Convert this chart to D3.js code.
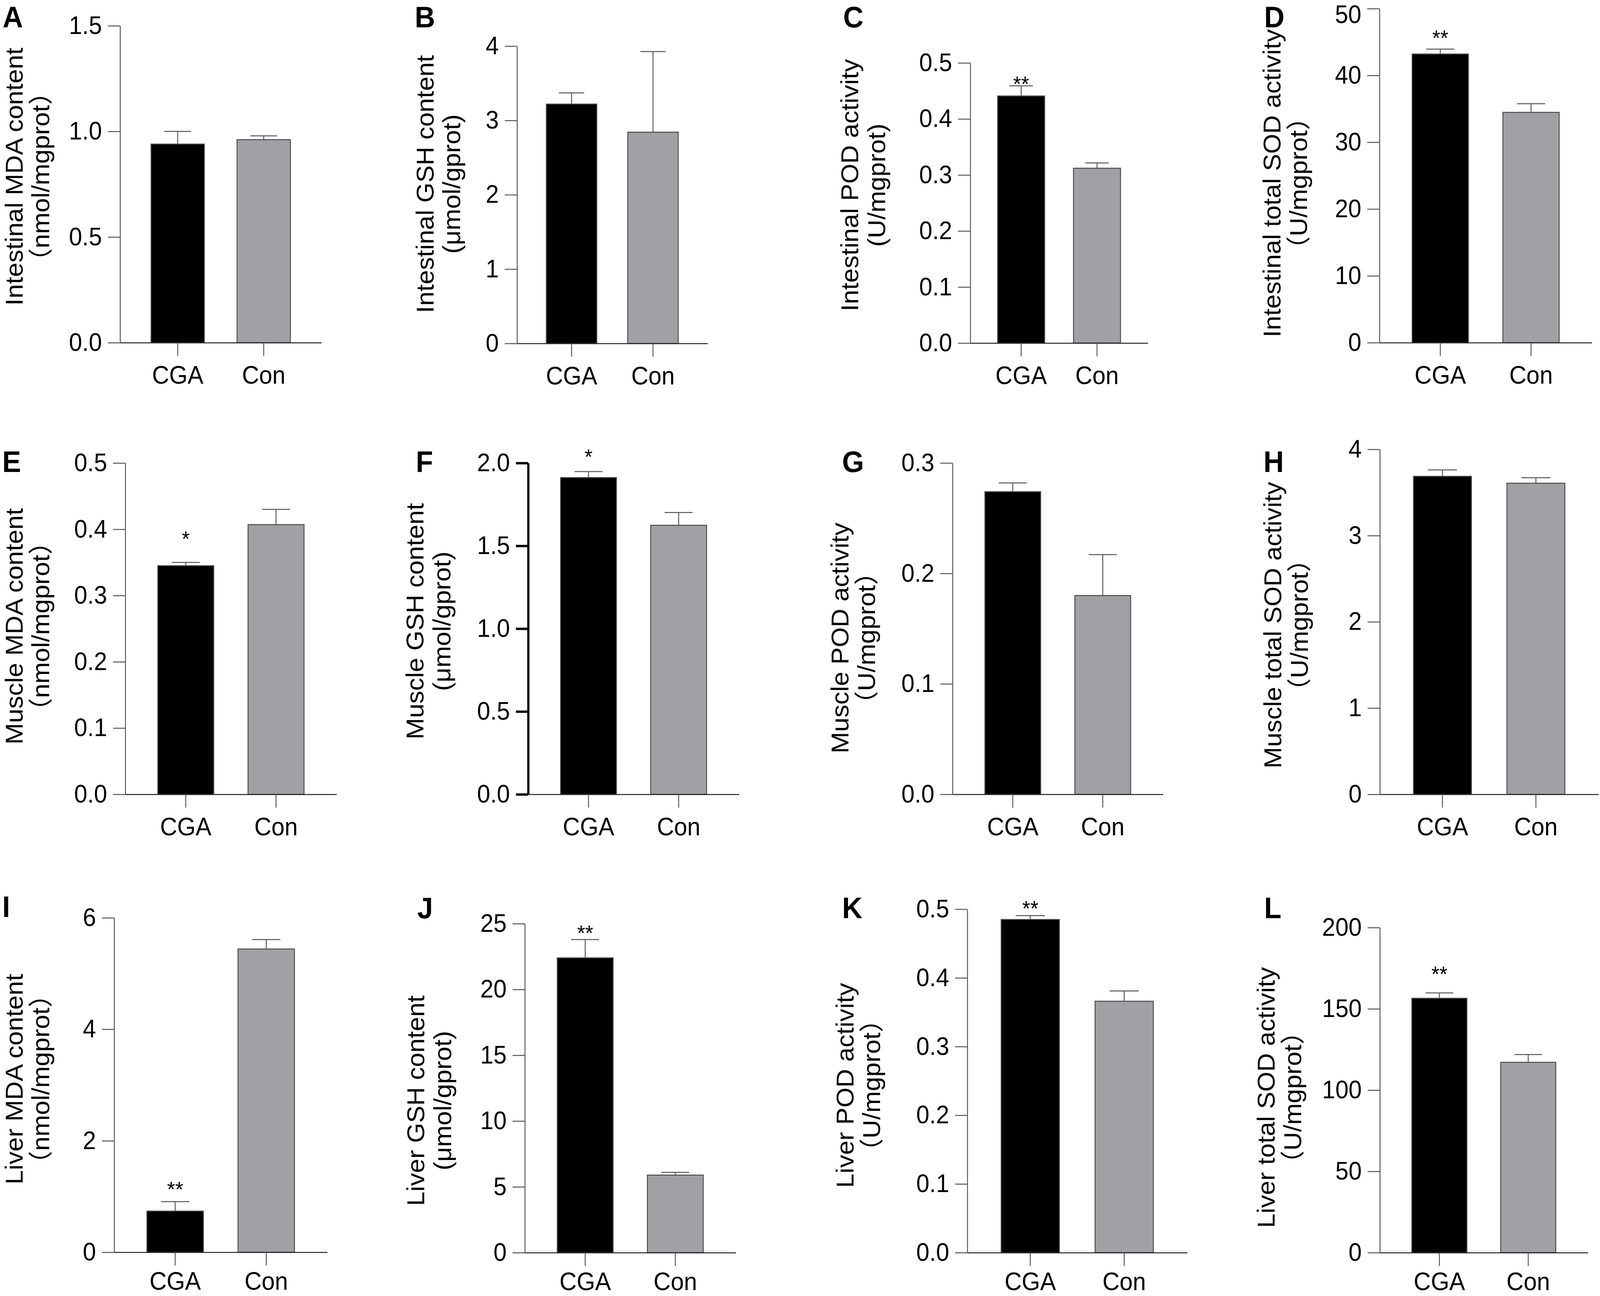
<!DOCTYPE html>
<html>
<head>
<meta charset="utf-8">
<script src="https://cdn.jsdelivr.net/npm/d3@7/dist/d3.min.js"></script>
<style>
  html, body { margin: 0; padding: 0; background: #fff; overflow: hidden; }
  svg { display: block; width: 100vw; height: 100vh; }
</style>
</head>
<body>
<svg id="chart" viewBox="0 0 4317 3317" preserveAspectRatio="none"></svg>
<script>
// ---------------- DATA ----------------
const panelLabels = ["A","B","C","D","E","F","G","H","I","J","K","L"];
const groups = ["CGA", "Con"];
const titleLine1 = [
  "Intestinal MDA content", "Intestinal GSH content", "Intestinal POD activity", "Intestinal total SOD activity",
  "Muscle MDA content", "Muscle GSH content", "Muscle POD activity", "Muscle total SOD activity",
  "Liver MDA content", "Liver GSH content", "Liver POD activity", "Liver total SOD activity"
];
const titleLine2 = [
  "（nmol/mgprot）", "(μmol/gprot)", "(U/mgprot)", "（U/mgprot）",
  "（nmol/mgprot）", "(μmol/gprot)", "（U/mgprot）", "（U/mgprot）",
  "（nmol/mgprot）", "(μmol/gprot)", "（U/mgprot）", "（U/mgprot）"
];
const cgaMean = [0.94, 3.22, 0.441, 43.2, 0.345, 1.912, 0.274, 3.687, 0.738, 22.40, 0.485, 156.5];
const cgaErr  = [0.06, 0.15, 0.018, 0.74, 0.005, 0.036, 0.008, 0.074, 0.17, 1.39, 0.0056, 3.3];
const conMean = [0.961, 2.842, 0.312, 34.47, 0.407, 1.624, 0.180, 3.607, 5.44, 5.89, 0.366, 117.1];
const conErr  = [0.018, 1.085, 0.0095, 1.29, 0.023, 0.077, 0.037, 0.064, 0.17, 0.21, 0.015, 4.8];
const yTicks = [
  [0, 0.5, 1.0, 1.5], [0, 1, 2, 3, 4], [0, 0.1, 0.2, 0.3, 0.4, 0.5], [0, 10, 20, 30, 40, 50],
  [0, 0.1, 0.2, 0.3, 0.4, 0.5], [0, 0.5, 1.0, 1.5, 2.0], [0, 0.1, 0.2, 0.3], [0, 1, 2, 3, 4],
  [0, 2, 4, 6], [0, 5, 10, 15, 20, 25], [0, 0.1, 0.2, 0.3, 0.4, 0.5], [0, 50, 100, 150, 200]
];
const yTickFormat = [".1f", "d", ".1f", "d", ".1f", ".1f", ".1f", "d", "d", "d", ".1f", "d"];
const stars = ["", "", "**", "**", "*", "*", "", "", "**", "**", "**", "**"];

// ---------------- LAYOUT (pixel positions, not data) ----------------
const layout = [
  {ax: 324,  right: 867,  zero: 877,  top: 66,   tx: 61,   tcy: 452,  lx: 7,    ly: 70,   so: 0,  thick: false, xpad: 26},
  {ax: 1395, right: 1909, zero: 879,  top: 118,  tx: 1170, tcy: 471,  lx: 1119, ly: 70,   so: 0,  thick: false, xpad: 26},
  {ax: 2618, right: 3097, zero: 878,  top: 161,  tx: 2316, tcy: 474,  lx: 2275, ly: 70,   so: 18, thick: false, xpad: 26},
  {ax: 3722, right: 4295, zero: 877,  top: 22,   tx: 3455, tcy: 469,  lx: 3411, ly: 70,   so: 42, thick: false, xpad: 26},
  {ax: 338,  right: 908,  zero: 2033, top: 1185, tx: 61,   tcy: 1603, lx: 6,    ly: 1208, so: 73, thick: false, xpad: 26},
  {ax: 1425, right: 1994, zero: 2033, top: 1185, tx: 1143, tcy: 1590, lx: 1122, ly: 1208, so: 51, thick: true,  xpad: 26},
  {ax: 2570, right: 3138, zero: 2033, top: 1185, tx: 2289, tcy: 1633, lx: 2272, ly: 1208, so: 0,  thick: false, xpad: 26},
  {ax: 3723, right: 4313, zero: 2033, top: 1150, tx: 3457, tcy: 1600, lx: 3409, ly: 1208, so: 0,  thick: false, xpad: 26},
  {ax: 308,  right: 883,  zero: 3205, top: 2349, tx: 61,   tcy: 2762, lx: 6,    ly: 2347, so: 44, thick: false, xpad: 17},
  {ax: 1416, right: 1985, zero: 3206, top: 2364, tx: 1145, tcy: 2817, lx: 1126, ly: 2350, so: 30, thick: false, xpad: 17},
  {ax: 2610, right: 3203, zero: 3206, top: 2327, tx: 2303, tcy: 2778, lx: 2272, ly: 2350, so: 32, thick: false, xpad: 17},
  {ax: 3723, right: 4284, zero: 3206, top: 2374, tx: 3439, tcy: 2809, lx: 3411, ly: 2350, so: 61, thick: false, xpad: 17}
];

const FONT = "'Liberation Sans', Arial, Helvetica, 'Noto Sans CJK SC', sans-serif";
const barFill = {CGA: "#000000", Con: "#a1a1a5"};
const lineColor = "#555555";
const TICK_FS = 64;

const svg = d3.select("#chart");
svg.append("rect").attr("width", 4317).attr("height", 3317).attr("fill", "#ffffff");

panelLabels.forEach((lab, i) => {
  const L = layout[i];
  const ticks = yTicks[i];
  const yMax = ticks[ticks.length - 1];
  const y = d3.scaleLinear().domain([0, yMax]).range([L.zero, L.top]);
  const x = d3.scaleBand().domain(groups).range([L.ax, L.right])
    .paddingInner(0.38).paddingOuter(0.36);
  const g = svg.append("g").attr("class", "panel");

  const vals = [
    {grp: "CGA", mean: cgaMean[i], err: cgaErr[i]},
    {grp: "Con", mean: conMean[i], err: conErr[i]}
  ];

  // bars
  g.selectAll("rect.bar").data(vals).enter().append("rect")
    .attr("class", "bar")
    .attr("x", d => x(d.grp))
    .attr("width", x.bandwidth())
    .attr("y", d => y(d.mean))
    .attr("height", d => y(0) - y(d.mean))
    .attr("fill", d => barFill[d.grp])
    .attr("stroke", "#4a4a4a")
    .attr("stroke-width", 2.5);

  // error bars (upper)
  const eb = g.selectAll("g.err").data(vals).enter().append("g").attr("class", "err");
  eb.append("line")
    .attr("x1", d => x(d.grp) + x.bandwidth() / 2)
    .attr("x2", d => x(d.grp) + x.bandwidth() / 2)
    .attr("y1", d => y(d.mean))
    .attr("y2", d => y(d.mean + d.err))
    .attr("stroke", lineColor).attr("stroke-width", 2.5);
  eb.append("line")
    .attr("x1", d => x(d.grp) + x.bandwidth() / 4)
    .attr("x2", d => x(d.grp) + x.bandwidth() * 3 / 4)
    .attr("y1", d => y(d.mean + d.err))
    .attr("y2", d => y(d.mean + d.err))
    .attr("stroke", lineColor).attr("stroke-width", 2.5);

  // significance stars
  if (stars[i]) {
    const d = vals[0];
    g.append("text")
      .attr("x", x(d.grp) + x.bandwidth() / 2)
      .attr("y", y(d.mean + d.err) - L.so + 32)
      .attr("text-anchor", "middle")
      .attr("font-family", FONT)
      .attr("font-size", 56)
      .attr("fill", "#000")
      .text(stars[i]);
  }

  // y axis
  const yAxis = d3.axisLeft(y).tickValues(ticks).tickSize(33).tickSizeOuter(0)
    .tickPadding(16).tickFormat(d3.format(yTickFormat[i]));
  const gy = g.append("g").attr("transform", `translate(${L.ax},0)`).call(yAxis);
  gy.selectAll("path.domain, .tick line")
    .attr("stroke", L.thick ? "#000" : lineColor)
    .attr("stroke-width", L.thick ? 6 : 2.5);
  gy.selectAll(".tick text")
    .attr("font-family", FONT).attr("font-size", TICK_FS).attr("fill", "#000")
    .attr("dy", d => {
      const yy = y(d);
      return yy < 38 ? (0.32 + (38 - yy) / TICK_FS) + "em" : "0.32em";
    });

  // x axis
  const xAxis = d3.axisBottom(x).tickSize(34).tickSizeOuter(0).tickPadding(L.xpad);
  const gx = g.append("g").attr("transform", `translate(0,${L.zero})`).call(xAxis);
  gx.selectAll("path.domain").attr("stroke", "#222").attr("stroke-width", 2.5);
  gx.selectAll(".tick line").attr("stroke", lineColor).attr("stroke-width", 2.5);
  gx.selectAll(".tick text")
    .attr("font-family", FONT).attr("font-size", TICK_FS).attr("fill", "#000");

  // axis title (two lines, rotated)
  const gt = g.append("g").attr("transform", `translate(${L.tx},${L.tcy}) rotate(-90)`);
  gt.append("text").attr("x", 0).attr("y", 0).attr("text-anchor", "middle")
    .attr("font-family", FONT).attr("font-size", 66).attr("fill", "#000")
    .text(titleLine1[i]);
  gt.append("text").attr("x", 0).attr("y", 72).attr("text-anchor", "middle")
    .attr("font-family", FONT).attr("font-size", 66).attr("fill", "#000")
    .text(titleLine2[i]);

  // panel letter
  g.append("text").attr("x", L.lx).attr("y", L.ly)
    .attr("font-family", FONT).attr("font-size", 76).attr("font-weight", "bold")
    .attr("fill", "#000").text(lab);
});
</script>
</body>
</html>
